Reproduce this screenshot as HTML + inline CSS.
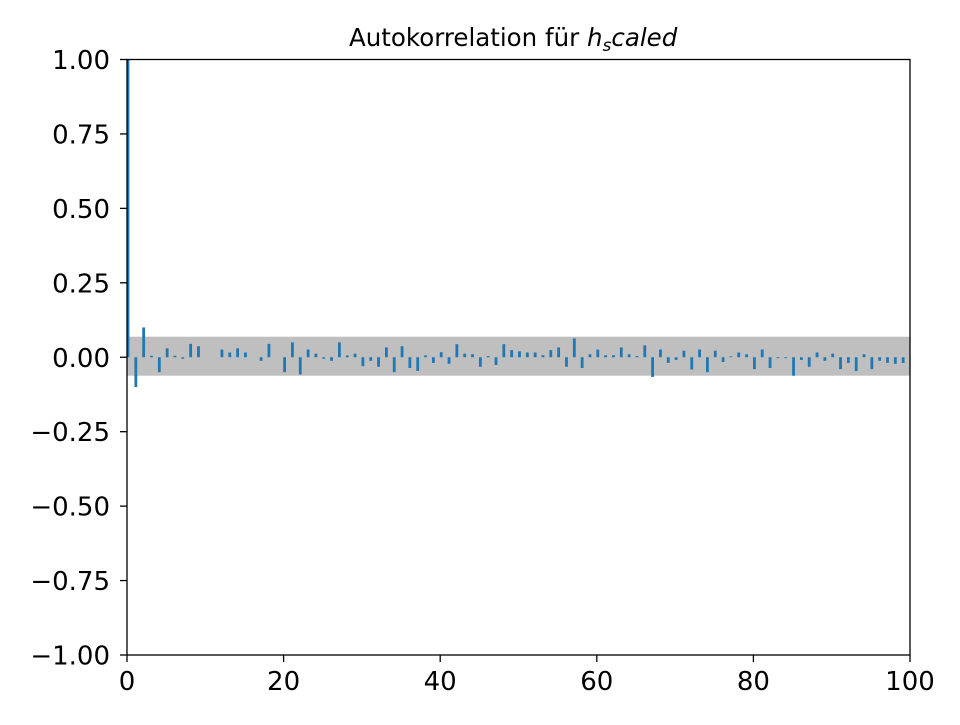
<!DOCTYPE html>
<html><head><meta charset="utf-8"><style>
body{margin:0;background:#fff}
svg text{font-family:"DejaVu Sans","Liberation Sans",sans-serif;fill:#000}
</style></head><body>
<svg id="chart" width="960" height="720" xmlns="http://www.w3.org/2000/svg">
<rect width="960" height="720" fill="#fff"/>
<g id="plot"></g>
</svg>
<script>
const lags = [];
for (let k = 0; k <= 99; k++) lags.push(k);
const acfValues = [1.0,-0.10,0.10,0.005,-0.05,0.03,0.005,-0.005,0.045,0.037,0,0,0.026,0.016,0.03,0.016,0,-0.012,0.045,0,-0.05,0.05,-0.058,0.026,0.012,-0.005,-0.012,0.05,0.006,0.012,-0.03,-0.012,-0.032,0.033,-0.05,0.037,-0.036,-0.046,0.006,-0.019,0.017,-0.022,0.044,0.012,0.01,-0.032,0.004,-0.026,0.044,0.024,0.02,0.016,0.016,0.007,0.024,0.033,-0.032,0.063,-0.036,0.01,0.026,0.007,0.007,0.033,0.01,0.004,0.04,-0.066,0.026,-0.019,-0.009,0.022,-0.041,0.026,-0.05,0.022,-0.016,0.003,0.016,0.01,-0.04,0.026,-0.036,-0.003,-0.003,-0.062,-0.009,-0.032,0.016,-0.012,0.012,-0.04,-0.019,-0.046,0.01,-0.04,-0.012,-0.019,-0.022,-0.019];
const confUpper = 0.069;
const confLower = -0.062;
const xTicks = [0,20,40,60,80,100];
const yTicks = [1.0,0.75,0.5,0.25,0,-0.25,-0.5,-0.75,-1.0];
const yTickLabels = ["1.00","0.75","0.50","0.25","0.00","\u22120.25","\u22120.50","\u22120.75","\u22121.00"];

const L=127,R=910,T=59.5,B=655;
const xs=v=>L+(v-0)/(100-0)*(R-L);
const ys=v=>T+(1-v)/2*(B-T);
const NS="http://www.w3.org/2000/svg";
const g=document.getElementById('plot');
function mk(tag,attrs){const e=document.createElementNS(NS,tag);for(const k in attrs)e.setAttribute(k,attrs[k]);g.appendChild(e);return e;}

const band=mk('rect',{x:L,y:ys(confUpper),width:R-L,height:ys(confLower)-ys(confUpper),fill:'#bfbfbf'});



acfValues.forEach((v,i)=>{
  const x=xs(lags[i])+1;
  const b=mk('line',{x1:x,x2:x,y1:ys(0),y2:ys(v),stroke:'#1f77b4','stroke-width':2.8});
  
  
});

const frame=mk('rect',{x:L,y:T,width:R-L,height:B-T,fill:'none',stroke:'#000','stroke-width':1.3});



yTicks.forEach((v,i)=>{
  const y=ys(v);
  const t=mk('line',{x1:L-7,x2:L,y1:y,y2:y,stroke:'#000','stroke-width':1.3});
  
  
  const tx=mk('text',{x:110,y:y+9.5,'text-anchor':'end','font-size':26});
  tx.textContent=yTickLabels[i];
  
  
});
xTicks.forEach(v=>{
  const x=xs(v);
  const t=mk('line',{x1:x,x2:x,y1:B,y2:B+7,stroke:'#000','stroke-width':1.3});
  
  
  const tx=mk('text',{x:x,y:690,'text-anchor':'middle','font-size':26});
  tx.textContent=String(v);
  
  
});

const title=mk('text',{x:349,y:46,'font-size':24.5});


title.innerHTML='Autokorrelation für <tspan font-style="italic">h</tspan><tspan font-style="italic" font-size="17" dy="5">s</tspan><tspan font-style="italic" dy="-5">caled</tspan>';
</script>
</body></html>
